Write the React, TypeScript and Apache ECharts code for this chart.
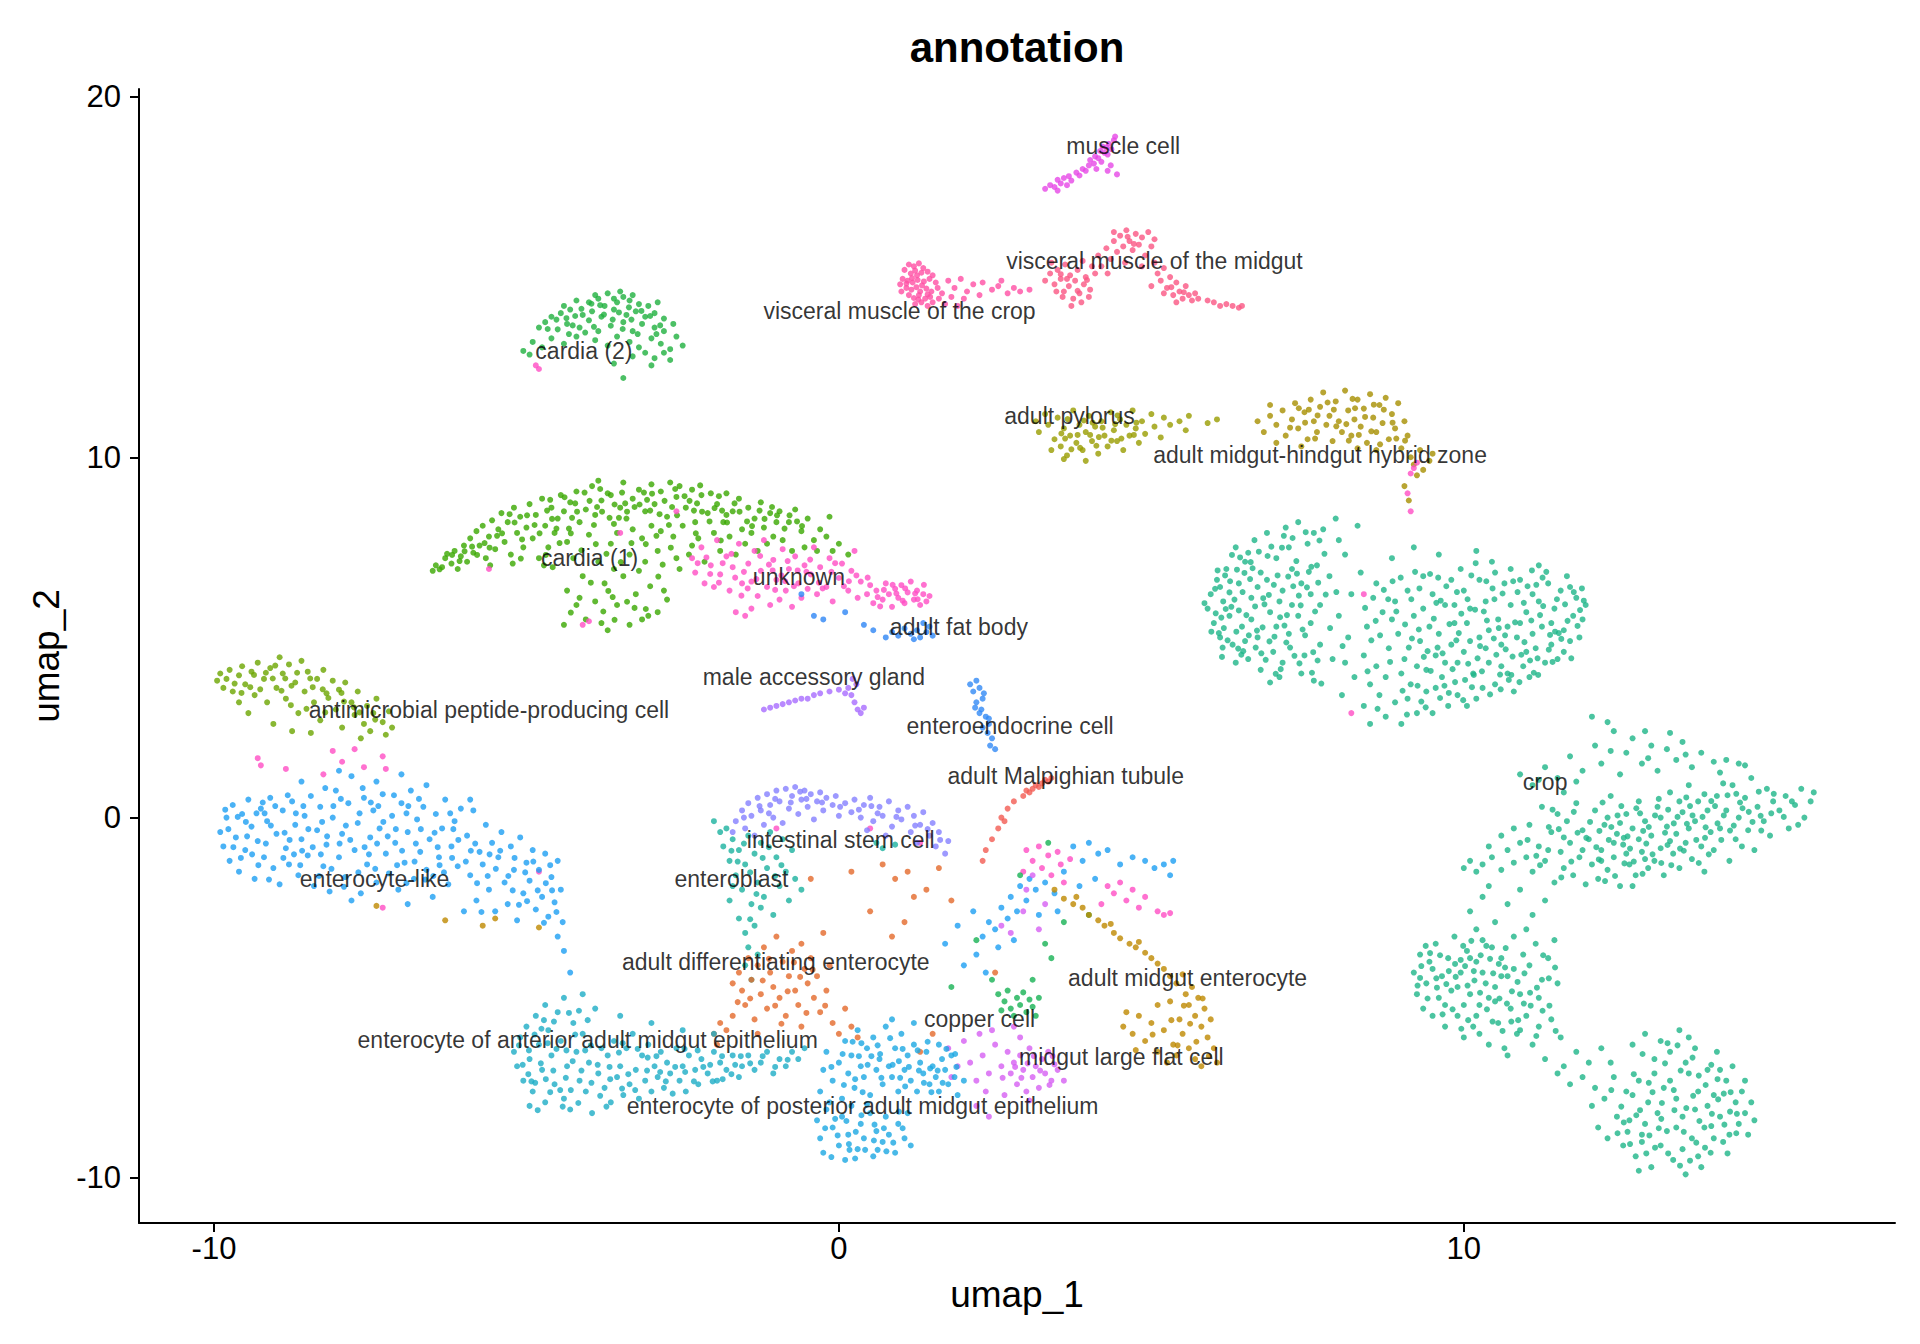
import React, { useEffect, useRef } from 'react';
import * as echarts from 'echarts';

// umap coordinates per cluster, flat [x, y, x, y, ...]
const crop = [
  5.9,5.8, 5.95,6.2, 6.0,5.4, 6.05,6.6, 6.1,5.0, 6.15,6.0, 6.2,6.9, 6.25,5.6, 6.3,4.8, 6.1,6.4, 6.25,6.25, 5.85,5.95,
  6.35,7.5, 6.4,6.5, 6.45,5.3, 6.5,7.1, 6.55,4.4, 6.6,6.1, 6.65,7.7, 6.7,5.0, 6.75,6.8, 6.4,5.75, 6.5,4.9, 6.6,5.5, 6.7,6.4, 6.35,4.3, 6.55,7.35, 6.75,4.1,
  6.85,7.9, 6.9,5.7, 6.95,4.6, 7.0,7.2, 7.05,3.9, 7.1,6.3, 7.15,8.05, 7.2,5.1, 7.25,6.9, 6.85,6.6, 7.0,5.3, 7.1,4.3, 7.2,7.5, 7.25,5.9, 6.9,3.75, 7.05,6.0,
  7.35,8.2, 7.4,6.5, 7.45,4.5, 7.5,7.6, 7.55,5.4, 7.6,3.8, 7.65,7.0, 7.7,5.9, 7.75,8.0, 7.4,4.0, 7.55,6.2, 7.7,4.8, 7.35,5.6, 7.6,7.9,
  7.85,6.7, 7.9,4.4, 7.95,8.3, 8.0,5.6, 8.05,3.4, 8.1,7.3, 8.15,5.0, 8.2,6.2, 8.25,3.9, 8.3,8.1, 8.0,7.7, 8.1,4.3,
  8.35,6.8, 8.4,3.1, 8.45,5.3, 8.5,2.6, 8.55,6.1, 8.6,4.2, 8.65,3.4, 8.7,5.7, 8.75,2.8, 8.8,4.7, 8.4,4.5, 8.6,6.5, 8.5,3.7, 8.75,3.9,
  8.85,7.2, 8.9,3.2, 8.95,5.1, 9.0,2.6, 9.05,4.4, 9.1,6.3, 9.15,3.7, 9.2,5.6, 9.25,2.9, 9.3,4.9, 8.9,6.0, 9.0,4.0, 9.2,7.5, 9.1,3.3, 8.85,5.5, 9.25,4.2,
  9.35,6.7, 9.4,3.5, 9.45,5.3, 9.5,2.9, 9.55,4.5, 9.6,7.3, 9.65,3.9, 9.7,5.9, 9.75,3.1, 9.8,4.8, 9.4,4.1, 9.5,6.2, 9.6,5.1, 9.7,4.3, 9.35,5.8, 9.8,6.6, 9.55,3.6,
  9.85,5.4, 9.9,3.4, 9.95,6.9, 10.0,4.6, 10.05,3.1, 10.1,5.8, 10.15,4.0, 10.2,7.4, 10.25,5.0, 10.3,3.6, 9.9,4.3, 10.0,6.3, 10.1,4.9, 10.2,3.3, 10.25,6.6, 9.85,5.9, 10.05,5.4,
  10.35,6.0, 10.4,4.3, 10.45,7.1, 10.5,3.7, 10.55,5.5, 10.6,4.8, 10.65,6.5, 10.7,4.0, 10.75,5.9, 10.8,3.5, 10.4,5.2, 10.5,6.8, 10.6,4.2, 10.7,5.3, 10.35,4.7, 10.75,6.9,
  10.85,5.0, 10.9,6.6, 10.95,4.2, 11.0,5.7, 11.05,3.9, 11.1,6.2, 11.15,4.7, 11.2,7.0, 11.25,5.3, 11.3,4.3, 10.9,5.4, 11.0,4.6, 11.2,6.0, 11.1,5.1,
  11.35,6.5, 11.4,4.8, 11.45,5.8, 11.5,4.4, 11.55,6.3, 11.6,5.2, 11.65,6.7, 11.7,4.9, 11.75,5.6, 11.8,6.1, 11.85,5.0, 11.9,5.5, 11.95,5.9, 11.4,5.4, 11.6,4.6, 11.7,6.4,
  6.02,6.35, 6.12,5.55, 6.22,4.92, 6.08,5.12, 6.18,6.72, 6.28,5.85, 6.33,6.05, 6.42,7.22, 6.47,4.62, 6.52,5.62, 6.62,6.92, 6.67,4.72, 6.72,7.38, 6.78,5.28,
  6.83,4.38, 6.88,6.18, 6.92,7.52, 6.97,5.02, 7.02,6.72, 7.07,4.12, 7.12,7.82, 7.17,5.62, 7.22,4.72, 7.27,6.42, 7.32,7.12, 7.37,4.28, 7.42,5.22, 7.47,7.92,
  7.52,6.82, 7.57,4.02, 7.62,5.72, 7.67,6.52, 7.72,3.72, 7.77,7.32, 6.03,5.67, 6.14,4.72, 6.37,6.88, 6.44,4.52, 6.58,6.62, 6.81,5.92, 7.13,5.33, 7.33,6.77,
  6.06,6.86, 6.16,5.26, 6.26,6.56, 6.36,5.16, 6.46,6.26, 6.56,5.06, 6.66,5.86, 6.76,4.56, 6.86,7.26, 6.96,6.46, 7.06,5.56, 7.16,4.86, 7.26,7.76, 7.36,6.16,
  7.46,5.06, 7.56,6.96, 7.66,4.36, 6.19,5.79, 6.39,4.69, 6.59,7.09, 6.79,6.09, 6.99,3.99, 7.19,6.69, 7.39,5.89, 7.59,4.59, 7.79,6.19, 6.29,7.29, 6.49,6.79,
  6.69,5.19, 6.89,4.89, 7.09,7.49, 7.29,4.49, 7.49,6.39, 7.69,7.69, 5.96,5.16, 6.13,4.46, 7.86,5.26, 7.96,6.26, 8.06,4.76,
  8.42,5.82, 8.52,4.92, 8.62,3.02, 8.72,6.32, 8.82,4.32, 8.92,5.72, 9.02,3.52, 9.12,4.72, 9.22,6.82, 9.32,3.22, 9.42,4.62, 9.52,5.52, 9.62,3.32, 9.72,6.42,
  9.82,4.12, 9.92,5.12, 10.02,3.82, 10.12,6.72, 10.22,4.42, 10.32,5.72, 10.42,3.42, 10.52,4.52, 10.62,6.22, 10.72,3.82, 10.82,5.42, 10.92,4.52, 11.02,6.42,
  11.12,4.02, 11.22,5.62, 11.32,6.82, 11.42,4.32, 11.52,5.12, 11.62,5.92, 11.72,4.42, 11.82,5.32, 11.92,6.02, 9.17,4.97, 9.47,4.07, 9.77,5.37, 10.07,4.27,
  10.37,5.47, 10.67,4.67, 10.97,4.87, 11.27,5.87, 9.28,5.22, 9.58,4.72, 9.88,4.92, 10.18,5.77, 10.48,4.97, 10.78,4.47, 11.08,5.47, 11.38,5.07, 9.63,6.02,
  10.13,3.62, 10.58,3.97, 11.18,4.42,
  8.46,4.06, 8.66,5.06, 8.86,6.56, 9.06,5.36, 9.26,3.66, 9.46,6.76, 9.66,4.56, 9.86,3.76, 10.06,6.06, 10.26,4.76, 10.46,6.36, 10.66,5.06, 10.86,6.26,
  11.06,4.36, 11.26,6.66, 11.46,5.16, 11.66,5.46, 11.86,5.76, 9.16,6.06, 9.36,4.46, 9.56,5.96, 9.76,3.46, 9.96,5.66, 10.16,3.96, 10.36,6.56, 10.56,5.26,
  10.76,3.96, 10.96,5.96, 11.16,6.46, 11.36,4.66, 11.56,4.96, 11.76,6.26, 9.09,2.86, 9.39,3.06, 9.69,3.66, 9.99,3.26, 10.29,4.06, 10.59,3.56, 10.89,3.76,
  11.19,3.96, 8.59,5.46, 8.79,6.06, 8.99,6.66, 9.29,6.36, 9.59,6.66, 9.89,6.26, 10.19,7.06, 10.49,6.06, 10.79,6.56, 11.09,6.86, 11.49,6.06, 11.89,6.36,
  10.9,1.2, 11.1,0.9, 11.3,1.4, 11.5,1.1, 11.7,1.7, 11.9,1.3, 12.1,2.0, 12.2,1.5, 12.4,2.4, 12.5,1.2, 12.6,1.8, 12.7,2.2, 12.85,1.5, 13.0,2.0, 13.1,1.3,
  13.25,1.9, 13.4,1.6, 13.5,2.1, 13.65,1.4, 13.8,1.8, 14.0,1.55, 14.2,1.6, 14.4,1.5, 14.5,1.45, 12.05,2.8, 12.3,2.65, 12.9,2.4, 13.3,2.35, 11.6,0.7,
  11.2,1.05, 11.8,1.0, 12.35,1.85, 12.95,1.65, 13.55,1.75, 14.1,1.25,
  10.0,-1.4, 10.1,-1.2, 10.2,-1.5, 10.3,-1.3, 10.45,-1.1, 10.6,-1.45, 10.7,-0.9, 10.8,-1.25, 10.9,-0.7, 11.0,-1.1, 10.4,-0.8, 10.8,-0.3, 10.6,-0.5,
  11.05,-0.2, 11.1,-1.5, 11.2,-0.8, 11.25,0.3, 11.3,-1.2, 11.4,-0.4, 11.45,-1.8, 11.5,0.1, 11.55,-0.95, 11.6,-1.4, 11.65,-0.1, 11.7,-0.7, 11.75,-1.6,
  11.8,0.4, 11.85,-1.1, 11.9,-0.35, 11.95,-1.85, 11.35,-0.9, 11.6,-0.55, 11.9,-0.9,
  12.0,-0.6, 12.05,-1.3, 12.1,0.2, 12.15,-1.7, 12.2,-0.9, 12.25,-0.2, 12.3,-1.45, 12.35,0.6, 12.4,-1.1, 12.45,-0.45, 12.5,-1.9, 12.55,-0.75, 12.6,0.1,
  12.65,-1.3, 12.7,-0.3, 12.75,-1.6, 12.8,0.45, 12.85,-0.95, 12.9,-0.1, 12.95,-1.4, 12.2,-1.2, 12.4,-0.7, 12.6,-1.0, 12.8,-0.6, 12.3,0.0, 12.7,-1.9,
  12.5,-0.15, 12.9,-1.15,
  13.0,-0.5, 13.05,-1.2, 13.1,0.3, 13.15,-0.85, 13.2,-1.6, 13.25,-0.25, 13.3,0.7, 13.35,-1.0, 13.4,-0.45, 13.45,-1.4, 13.5,0.15, 13.55,-0.7, 13.6,0.9,
  13.65,-1.15, 13.7,-0.1, 13.75,0.45, 13.8,-0.8, 13.85,-1.5, 13.9,0.2, 13.95,-0.4, 13.3,-0.65, 13.6,-0.3, 13.15,0.0, 13.85,0.65, 13.45,0.45,
  14.0,-0.9, 14.05,0.6, 14.1,-0.3, 14.2,0.2, 14.25,-1.2, 14.3,0.9, 14.35,-0.6, 14.4,0.0, 14.5,0.55, 14.55,-0.35, 14.6,1.1, 14.65,-0.9, 14.7,0.3,
  14.8,-0.1, 14.85,0.8, 14.9,-0.5, 14.95,0.45, 14.15,0.95, 14.45,-0.8, 14.75,0.05,
  15.05,0.2, 15.15,0.6, 15.2,-0.3, 15.3,0.35, 15.4,0.8, 15.45,0.0, 15.55,0.45, 15.6,0.7, 15.35,-0.2,
  11.02,-0.62, 11.22,-1.32, 11.42,0.22, 11.52,-0.32, 11.72,-1.22, 11.82,-0.42, 12.02,-0.12, 12.12,-0.82, 12.22,0.42, 12.32,-0.62, 12.42,-1.62, 12.52,0.32,
  12.62,-0.52, 12.72,-1.22, 12.82,0.12, 12.92,-0.72, 13.02,-1.02, 13.12,0.52, 13.22,-0.42, 13.32,-1.32, 13.42,0.02, 13.52,-0.92, 13.62,0.32, 13.72,-0.62,
  13.82,0.02, 13.92,-1.02, 14.02,0.32, 14.12,-0.62, 14.22,0.62, 14.32,-0.22, 14.42,0.42, 14.62,-0.12, 14.72,0.72, 14.92,0.12, 15.12,0.02, 15.25,0.45,
  12.17,-0.37, 12.57,-1.27, 12.87,-0.37, 13.27,0.22, 13.57,-0.17, 13.87,-0.27,
  11.16,-1.06, 11.36,-0.26, 11.56,-1.66, 11.76,0.16, 11.96,-0.56, 12.16,-1.16, 12.36,-0.26, 12.56,-0.56, 12.76,0.26, 12.96,-0.26, 13.16,-1.26, 13.36,-0.16,
  13.56,0.56, 13.76,-1.26, 13.96,0.46, 14.16,0.06, 14.36,0.66, 14.56,0.16, 14.76,-0.36, 14.96,0.66, 12.26,-1.76, 12.66,-0.86, 13.06,0.06, 13.46,-0.86,
  13.86,-0.56, 14.26,-0.36, 12.46,0.06, 12.86,-1.56, 13.26,-0.76, 13.66,0.06, 14.06,-0.16, 14.46,0.26,
  10.1,-2.6, 10.3,-2.2, 10.5,-2.9, 10.7,-2.4, 10.9,-2.0, 11.1,-2.7, 11.3,-2.3, 10.4,-1.9, 11.0,-3.1, 10.2,-3.1,
  9.2,-4.3, 9.25,-4.9, 9.3,-3.8, 9.35,-5.3, 9.4,-4.6, 9.45,-4.0, 9.5,-5.5, 9.55,-3.5, 9.6,-5.0, 9.65,-4.4, 9.7,-5.8, 9.75,-3.9, 9.8,-4.8, 9.3,-4.45,
  9.5,-4.2, 9.7,-5.2,
  9.85,-3.3, 9.9,-5.5, 9.95,-4.3, 10.0,-6.1, 10.05,-3.7, 10.1,-4.9, 10.15,-5.8, 10.2,-4.0, 10.25,-5.2, 10.3,-3.4, 10.35,-4.6, 10.4,-6.3, 9.9,-4.7,
  10.0,-5.2, 10.1,-3.9, 10.2,-5.5, 10.3,-4.3, 10.4,-5.0, 9.95,-3.95, 10.25,-6.0,
  10.45,-3.6, 10.5,-4.7, 10.55,-5.7, 10.6,-3.9, 10.65,-6.4, 10.7,-4.4, 10.75,-5.3, 10.8,-3.3, 10.85,-6.0, 10.9,-4.9, 10.95,-3.8, 11.0,-5.5, 10.5,-5.1,
  10.7,-6.6, 10.8,-4.2, 10.6,-4.4, 10.9,-5.9,
  11.05,-4.1, 11.1,-6.3, 11.15,-3.5, 11.2,-5.0, 11.25,-4.5, 11.3,-6.7, 11.35,-3.9, 11.4,-5.6, 11.5,-4.6, 11.55,-6.1, 11.45,-3.4, 11.2,-5.8,
  9.32,-4.12, 9.42,-5.02, 9.57,-4.72, 9.62,-3.82, 9.82,-5.32, 9.87,-4.42, 10.02,-4.12, 10.07,-5.62, 10.17,-4.52, 10.27,-3.82, 10.37,-5.32, 10.47,-4.32,
  10.57,-5.02, 10.67,-3.62, 10.77,-4.82, 10.87,-5.62, 10.97,-4.32, 11.07,-5.22, 11.17,-4.72, 11.27,-3.82, 11.37,-5.22, 11.47,-5.92, 10.12,-3.42,
  10.42,-3.92, 9.72,-4.62, 10.62,-5.92,
  9.26,-4.66, 9.46,-3.76, 9.66,-5.46, 9.86,-4.06, 10.06,-4.66, 10.26,-4.86, 10.46,-5.66, 10.66,-4.16, 10.86,-4.56, 11.06,-4.86, 11.26,-5.36, 11.46,-4.16,
  9.56,-4.46, 9.76,-4.26, 9.96,-5.86, 10.16,-4.26, 10.36,-3.56, 10.56,-4.06, 10.76,-5.66, 10.96,-5.16, 11.16,-6.06, 11.36,-4.46, 9.39,-3.56, 9.99,-3.56,
  10.69,-5.16,
  11.6,-6.9, 11.8,-6.5, 11.9,-7.2, 12.0,-6.8, 12.1,-7.5, 11.7,-7.4, 12.2,-6.4, 11.5,-7.1,
  12.05,-8.0, 12.15,-8.6, 12.25,-7.8, 12.3,-8.9, 12.4,-7.2, 12.45,-8.3, 12.55,-9.1, 12.6,-7.6, 12.35,-6.8,
  12.65,-8.4, 12.7,-6.3, 12.75,-9.4, 12.8,-7.3, 12.85,-8.8, 12.9,-6.0, 12.95,-7.9, 13.0,-9.7, 13.05,-6.7, 13.1,-8.2, 13.15,-9.1, 13.2,-7.5, 12.7,-7.7,
  12.9,-8.5, 13.05,-7.1, 12.8,-9.8, 13.15,-6.2, 12.85,-9.0,
  13.25,-8.7, 13.3,-6.5, 13.35,-9.5, 13.4,-7.8, 13.45,-5.9, 13.5,-8.3, 13.55,-9.9, 13.6,-7.1, 13.65,-8.9, 13.7,-6.4, 13.75,-7.6, 13.3,-7.3, 13.5,-9.2,
  13.6,-6.1, 13.7,-8.1, 13.4,-8.6, 13.55,-6.8, 13.75,-9.4,
  13.85,-8.6, 13.9,-7.0, 13.95,-9.3, 14.0,-7.7, 14.05,-6.5, 14.1,-8.3, 14.15,-9.0, 14.2,-7.3, 14.25,-8.8, 14.3,-6.9, 14.35,-7.9, 14.4,-8.5, 13.9,-8.0,
  14.1,-7.0, 13.8,-9.7, 14.0,-8.9,
  14.45,-7.6, 14.5,-8.2, 14.55,-8.8, 14.6,-7.9, 14.65,-8.4, 14.5,-7.3,
  12.52,-8.02, 12.62,-8.72, 12.72,-7.12, 12.82,-8.12, 12.92,-9.32, 13.02,-7.62, 13.12,-8.62, 13.22,-6.82, 13.27,-9.32, 13.37,-8.12, 13.47,-7.02,
  13.52,-8.72, 13.62,-9.52, 13.67,-7.72, 13.77,-8.42, 13.87,-7.42, 13.97,-8.22, 14.07,-7.82, 14.17,-8.52, 14.27,-7.62, 14.37,-8.22, 13.42,-6.32,
  13.17,-7.92, 12.97,-8.82, 13.72,-9.02, 14.22,-9.32,
  12.36,-7.56, 12.56,-8.46, 12.76,-8.26, 12.96,-7.36, 13.16,-8.36, 13.36,-7.56, 13.56,-8.06, 13.76,-7.16, 13.96,-8.56, 14.16,-7.66, 14.36,-8.76,
  12.66,-9.06, 13.06,-9.16, 13.46,-9.66, 13.86,-9.16, 14.26,-8.16, 13.26,-6.26, 13.66,-6.66, 14.06,-7.26, 12.86,-6.56, 13.96,-6.86, 12.46,-8.76,
];

const muscleCell = [
  3.30,17.45, 3.38,17.55, 3.45,17.5, 3.5,17.7, 3.55,17.6, 3.6,17.75, 3.68,17.8, 3.72,17.68, 3.8,17.9, 3.85,17.82, 3.9,18.0,
  3.95,17.95, 4.0,18.1, 4.02,18.25, 4.08,18.15, 4.1,18.35, 4.15,18.3, 4.18,18.5, 4.2,18.2, 4.25,18.45, 4.28,18.6, 4.3,18.4,
  4.32,18.7, 4.36,18.55, 4.4,18.8, 4.42,18.9, 4.35,18.1, 4.3,17.95, 4.45,17.85, 3.5,17.4, 3.65,17.55, 4.12,18.0, 4.22,18.62,
];

const visceralCrop = [
  1.05,15.2, 1.12,15.35, 1.2,15.3, 1.28,15.38, 1.35,15.25, 1.15,15.1, 1.25,15.05, 1.32,15.12, 1.42,15.15, 1.5,15.05, 1.02,14.95,
  1.1,14.9, 1.18,14.85, 1.26,14.92, 1.36,14.88, 1.45,14.95, 1.55,14.85, 1.08,14.7, 1.16,14.65, 1.24,14.72, 1.3,14.6, 1.4,14.68,
  1.48,14.6, 1.58,14.7, 1.12,14.5, 1.2,14.42, 1.28,14.5, 1.38,14.4, 1.46,14.45, 1.22,14.25, 1.32,14.3, 1.42,14.2, 1.5,14.3,
  1.6,14.4, 1.65,14.55, 1.0,14.6, 0.98,14.8,
  1.75,14.9, 1.85,14.7, 1.95,14.95, 2.05,14.6, 2.15,14.8, 2.25,14.5, 2.3,14.85, 2.45,14.65, 2.55,14.75, 2.7,14.55, 2.8,14.7,
  2.9,14.6, 3.05,14.65, 2.0,14.4, 1.8,14.45, 2.6,14.9, 1.7,14.25, 1.9,14.2,
  1.17,14.97, 1.33,14.77, 1.22,15.18, 1.42,14.52, 1.27,14.38, 1.08,14.82,
];

const visceralMidgut = [
  3.3,14.9, 3.38,15.1, 3.45,14.8, 3.5,15.2, 3.55,14.95, 3.6,14.6, 3.62,15.35, 3.68,14.75, 3.7,15.05, 3.75,14.4, 3.78,14.9,
  3.82,15.2, 3.85,14.55, 3.88,14.3, 3.9,15.45, 3.92,14.8, 3.95,15.0, 4.0,14.45, 4.02,14.65, 4.05,15.3, 3.58,14.45, 3.72,14.2,
  3.48,14.6, 3.4,15.4, 4.1,15.1,
  4.15,15.6, 4.2,15.3, 4.28,15.8, 4.35,15.5, 4.4,16.0, 4.45,15.7, 4.5,16.15, 4.55,15.85, 4.6,16.3, 4.65,16.0, 4.7,15.75,
  4.75,16.2, 4.8,15.9, 4.85,16.1, 4.9,15.6, 4.95,16.25, 5.0,15.85, 4.3,15.1, 4.58,15.4, 4.85,15.3, 5.05,16.05, 4.4,16.25,
  5.05,15.4, 5.1,15.1, 5.15,14.9, 5.2,15.25, 5.25,14.7, 5.3,15.0, 5.35,14.5, 5.4,14.85, 5.45,14.6, 5.5,14.4, 5.55,14.75,
  5.6,14.5, 5.65,14.35, 5.7,14.55, 5.75,14.4, 5.2,14.55, 5.4,14.3, 5.0,14.75,
  6.0,14.3, 6.1,14.2, 6.2,14.25, 6.3,14.2, 6.4,14.15, 6.45,14.2, 5.9,14.35,
  3.65,14.95, 3.82,14.62, 3.55,15.08, 3.97,14.92, 4.62,16.12, 4.72,15.92, 5.32,14.72, 5.52,14.58,
];

const cardia2 = [
  -3.9,14.5, -3.7,14.55, -3.5,14.6, -3.3,14.5, -3.6,14.4, -3.45,14.45,
  -4.4,14.2, -4.2,14.35, -4.0,14.3, -3.85,14.4, -3.75,14.2, -3.55,14.3, -3.35,14.35, -3.2,14.25, -3.05,14.2, -2.9,14.3,
  -4.6,13.9, -4.45,14.0, -4.3,14.1, -4.1,13.95, -3.95,14.05, -3.8,13.9, -3.6,14.1, -3.4,13.95, -3.25,14.05, -3.1,13.9, -2.95,14.0, -2.8,13.85,
  -4.8,13.6, -4.7,13.75, -4.5,13.55, -4.35,13.7, -4.15,13.6, -4.0,13.8, -3.85,13.5, -3.65,13.65, -3.45,13.75, -3.3,13.5, -3.15,13.7, -2.95,13.6, -2.8,13.5, -2.65,13.7,
  -4.9,13.2, -4.75,13.05, -4.6,13.3, -4.4,13.15, -4.2,13.35, -3.9,13.25, -3.7,13.1, -3.55,13.35, -3.35,13.2, -3.2,13.05, -3.0,13.3, -2.85,13.15, -2.7,13.0, -2.6,13.35, -2.5,13.1,
  -5.05,12.95, -4.95,12.85, -3.3,12.8, -3.1,12.9, -2.95,12.75, -2.8,12.9, -3.6,12.6, -3.0,12.55, -2.7,12.7, -3.45,12.2,
  -4.52,13.82, -4.22,13.92, -3.92,13.62, -3.62,13.82, -3.32,13.82, -3.02,13.92, -4.12,14.12, -3.82,14.22, -3.52,14.02, -3.22,13.42, -2.92,13.42, -4.32,13.42,
  -4.36,13.86, -4.06,13.46, -3.76,13.96, -3.46,13.56, -3.16,14.06, -2.86,13.66, -4.66,13.56, -3.96,14.26, -3.36,14.16, -4.26,13.66,
];

const adultPylorus = [
  3.15,11.0, 3.2,10.7, 3.3,11.2, 3.35,10.9, 3.45,10.5, 3.5,11.1, 3.55,10.3, 3.6,10.8, 3.65,10.05, 3.7,10.6, 3.75,11.3,
  3.8,10.4, 3.85,10.9, 3.9,10.2, 3.95,10.7, 4.0,11.15, 4.05,10.45, 4.1,10.85, 4.15,10.1, 4.2,11.0, 4.25,10.6, 4.3,10.3,
  4.35,11.25, 4.4,10.75, 4.45,10.45, 4.5,11.05, 4.55,10.2, 4.6,10.9, 4.65,10.6, 4.7,11.3, 4.75,10.8, 4.8,10.4, 4.85,11.0,
  4.9,10.65, 5.0,11.2, 5.05,10.85, 5.15,10.55, 5.2,11.1, 5.3,10.9, 5.45,11.0, 5.55,10.75, 5.6,11.15, 5.9,10.95, 6.05,11.05,
  3.4,10.2, 3.6,9.95, 3.95,9.9,
  3.62,10.52, 3.92,11.02, 4.22,10.82, 4.52,10.52, 4.12,10.32, 3.82,10.62, 4.42,10.92, 4.72,10.62, 3.72,10.22, 4.02,10.62,
  3.56,10.66, 3.86,10.26, 4.16,10.56, 4.46,11.16, 4.76,10.96, 3.66,11.06, 4.06,10.96, 4.36,10.46,
];

const hybridZone = [
  6.7,11.0, 6.8,10.7, 6.9,11.15, 7.0,10.9, 7.1,11.3, 7.15,10.6, 7.25,11.05, 7.3,11.5, 7.35,10.8, 7.45,11.25, 7.5,10.5,
  7.55,11.6, 7.6,11.0, 7.65,10.7, 7.7,11.4, 7.75,11.8, 7.8,10.9, 7.85,11.15, 7.9,10.45, 7.95,11.55, 8.0,11.0, 8.05,10.7,
  8.1,11.85, 8.15,11.3, 8.2,10.6, 8.25,11.05, 8.3,11.6, 8.35,10.85, 8.4,11.35, 8.45,10.4, 8.5,11.75, 8.55,11.1, 8.6,10.7,
  8.65,11.45, 8.7,10.95, 8.75,11.65, 8.8,10.5, 8.85,11.2, 8.9,10.8, 8.95,11.5, 9.0,10.25, 9.05,11.0, 9.1,10.6, 9.15,10.0,
  9.2,9.8, 9.3,10.2, 9.35,9.65, 9.45,9.9, 9.5,10.1, 9.25,9.5, 8.6,10.2, 8.3,10.25, 7.4,10.3, 7.0,10.4, 6.9,11.45, 9.12,8.8, 9.05,9.2,
  7.22,10.82, 7.52,11.32, 7.82,11.52, 8.12,10.92, 8.42,11.12, 8.72,11.32, 8.92,10.52, 7.62,10.52, 8.22,11.62, 8.52,10.72, 7.92,11.32, 8.32,10.62,
  7.36,11.36, 7.66,11.16, 7.96,10.86, 8.26,11.36, 8.56,11.46, 8.86,10.96, 8.16,10.46, 7.46,10.96, 8.66,10.36, 9.06,10.46,
];

const cardia1 = [
  -6.5,6.85, -6.45,7.0, -6.35,6.95, -6.3,7.2, -6.2,7.05, -6.15,7.4, -6.05,7.25, -6.0,7.55, -6.1,6.9,
  -5.95,7.1, -5.9,7.75, -5.85,7.35, -5.8,7.95, -5.75,7.55, -5.7,8.1, -5.65,7.2, -5.6,7.8, -5.55,8.25, -5.5,7.45, -5.58,7.0,
  -5.45,8.0, -5.4,8.45, -5.35,7.65, -5.3,8.2, -5.25,7.3, -5.2,8.6, -5.15,7.9, -5.1,8.35, -5.05,7.5, -5.0,8.05, -5.22,7.05,
  -4.95,8.7, -4.9,7.75, -4.85,8.4, -4.8,7.2, -4.75,8.85, -4.7,8.1, -4.65,7.5, -4.6,8.6, -4.55,7.9, -4.5,8.3, -4.58,6.95, -4.72,7.0,
  -4.45,8.95, -4.4,8.5, -4.35,7.65, -4.3,8.75, -4.25,7.2, -4.2,9.05, -4.15,8.2, -4.1,6.7, -4.05,8.55, -4.0,7.85, -4.35,6.3, -4.2,5.9, -4.05,5.5, -4.15,6.1, -4.4,5.35,
  -3.95,9.2, -3.9,8.4, -3.85,7.1, -3.8,8.8, -3.75,6.5, -3.7,9.0, -3.65,7.6, -3.6,8.15, -3.55,5.9, -3.5,8.6, -3.9,6.0, -3.8,5.4, -3.6,6.9, -3.7,5.2, -3.55,7.9, -3.85,9.35, -3.65,8.95,
  -3.45,9.3, -3.4,8.3, -3.35,7.3, -3.3,8.85, -3.25,6.2, -3.2,9.1, -3.15,7.75, -3.1,8.5, -3.05,5.6, -3.0,9.25, -3.45,6.7, -3.35,5.35, -3.2,6.85, -3.1,7.1, -3.3,8.0, -3.0,8.1, -3.15,5.5,
  -2.95,8.7, -2.9,7.4, -2.85,9.05, -2.8,6.3, -2.75,8.35, -2.7,9.3, -2.65,7.8, -2.6,8.9, -2.55,6.9, -2.5,8.1, -2.9,5.7, -2.75,6.05, -2.6,7.2, -2.85,7.95, -2.55,9.2,
  -2.45,8.6, -2.4,7.3, -2.35,9.1, -2.3,8.2, -2.25,7.75, -2.2,8.95, -2.15,7.1, -2.1,8.45, -2.05,9.0, -2.0,7.9, -2.35,7.55,
  -1.95,8.7, -1.9,7.4, -1.85,8.2, -1.8,9.0, -1.75,7.8, -1.7,8.5, -1.65,7.3, -1.6,8.85, -1.55,8.0, -1.5,7.6, -1.8,8.4,
  -1.45,8.6, -1.4,7.9, -1.35,8.3, -1.3,7.4, -1.25,8.75, -1.2,8.05, -1.15,7.6, -1.1,8.45, -1.05,7.8, -1.0,8.2,
  -0.95,8.5, -0.9,7.7, -0.8,8.2, -0.75,7.4, -0.7,8.55, -0.6,7.95, -0.55,7.5, -0.5,8.3, -0.4,7.7, -0.3,8.0, -0.35,7.4,
  -0.2,7.8, -0.1,7.4, 0.0,7.6, 0.15,7.3, -0.15,8.35,
  -6.27,7.32, -6.07,7.12, -5.87,7.52, -5.67,7.62, -5.47,7.82, -5.27,8.42, -5.07,7.72, -4.87,8.12, -4.67,8.52, -4.47,7.62, -4.27,8.32, -4.07,9.02,
  -3.87,8.62, -3.67,8.32, -3.47,9.02, -3.27,8.62, -3.07,8.82, -2.87,8.42, -2.67,8.62, -2.47,8.92, -2.27,8.72, -2.07,8.22, -1.87,8.52, -1.67,8.72,
  -1.47,8.22, -1.27,8.52, -1.07,8.62, -0.87,8.02, -0.67,8.22, -4.62,8.82, -4.22,8.72, -3.82,9.12, -3.42,8.72, -3.02,8.52, -2.62,9.12, -2.22,9.22,
  -4.32,8.02, -3.92,8.12, -3.52,8.32, -3.12,9.02, -2.72,8.12, -2.32,8.52, -1.92,8.92, -3.72,7.32, -3.32,7.62, -2.92,7.82, -4.12,7.42, -4.52,8.02,
  -3.97,6.52, -3.62,6.12, -3.27,5.82, -3.02,6.42, -3.77,5.72, -2.82,7.02,
  -6.39,6.89, -6.19,7.29, -5.99,7.39, -5.79,7.29, -5.59,7.49, -5.39,7.89, -5.19,8.19, -4.99,8.39, -4.79,7.89, -4.59,8.29, -4.39,8.89, -4.19,8.49,
  -3.99,8.79, -3.79,8.49, -3.59,8.69, -3.39,8.49, -3.19,8.69, -2.99,8.99, -2.79,8.79, -2.59,8.39, -2.39,8.79, -2.19,8.49, -1.99,8.59, -1.79,8.19,
  -1.59,8.49, -1.39,8.09, -1.19,8.29, -0.99,8.39, -0.79,8.39, -0.59,8.09, -5.09,7.19, -4.69,7.29, -4.29,7.89, -3.89,7.59, -3.49,7.09, -3.09,7.59,
  -2.69,7.49, -2.29,7.89, -1.89,7.69, -3.69,6.29, -3.39,5.99, -3.09,5.79, -3.59,5.49, -2.89,6.69, -4.29,5.69,
];

const unknown = [
  -2.35,7.2, -2.3,6.8, -2.2,7.5, -2.15,6.5, -2.05,7.0, -2.0,6.4, -1.95,7.7, -1.9,6.75, -1.8,7.25, -1.75,6.3, -1.7,6.95,
  -1.6,7.6, -1.55,6.5, -1.65,5.7, -1.5,5.6, -1.4,5.8,
  -1.45,7.05, -1.4,6.55, -1.35,7.4, -1.3,6.15, -1.25,6.85, -1.2,7.7, -1.15,6.4, -1.1,5.9, -1.05,7.15, -1.0,6.6, -0.95,6.05,
  -0.9,7.45, -0.85,6.3, -0.8,6.9, -0.75,5.85, -0.7,7.25, -0.65,6.5, -0.6,6.1, -0.55,7.0, -0.5,6.35,
  -0.45,6.75, -0.4,7.5, -0.35,6.2, -0.3,6.95, -0.2,6.4, -0.15,7.2, -0.1,6.0, 0.0,6.65, 0.05,7.05, 0.15,6.3, 0.2,6.85,
  0.3,6.1, 0.35,6.55, 0.25,7.4,
  0.45,6.2, 0.5,6.45, 0.55,5.95, 0.6,6.3, 0.7,6.05, 0.75,6.5, 0.8,6.2, 0.85,5.85, 0.9,6.35, 0.95,6.1, 1.0,6.45, 1.05,5.95,
  1.1,6.25, 1.15,6.55, 1.2,6.05, 1.25,6.3, 1.3,5.9, 1.35,6.2, 1.4,6.0, 1.45,6.15,
  -2.12,7.22, -1.92,6.52, -1.72,7.32, -1.52,6.82, -1.32,6.62, -1.12,7.02, -0.92,6.72, -0.72,6.42, -0.52,6.82, -0.32,6.52,
  -0.12,6.82, 0.08,6.42, 0.28,6.72, 0.62,6.12, 0.92,6.22, 1.22,6.22, 1.02,6.02, 0.72,6.32, -1.02,6.32, -0.82,7.12,
  -2.26,7.06, -2.06,6.76, -1.86,7.06, -1.66,6.66, -1.46,6.36, -1.26,7.26, -1.06,6.86, -0.86,6.56, -0.66,6.86, -0.46,7.16,
  -0.26,6.36, -0.06,7.06, 0.16,6.56, 0.46,6.66, 0.66,5.86, 0.86,6.46, 1.06,6.36, 1.26,6.06, 1.36,6.46, -1.56,6.16,
  -5.6,6.9, -4.1,5.35, -4.0,5.45, -3.5,7.9, -2.6,8.5,
  -9.3,1.65, -9.25,1.45, -8.85,1.35, -8.1,1.85, -7.95,1.55, -7.75,1.9, -7.6,1.4, -7.3,1.7, -7.25,1.35, -8.25,1.2,
  3.0,-0.9, 3.1,-1.2, 3.2,-0.8, 3.25,-1.4, 3.35,-1.05, 3.4,-1.6, 3.5,-0.95, 3.55,-1.3, 3.6,-1.8, 3.7,-1.15, 2.95,-1.5,
  4.3,-1.9, 4.4,-2.1, 4.5,-1.8, 4.6,-2.3, 4.7,-2.0, 4.8,-2.5, 4.9,-2.2, 5.1,-2.6, 5.2,-2.7, 5.3,-2.65, 4.2,-2.4,
  9.2,9.7, 9.25,9.85, 9.15,9.55, 9.1,9.0, 9.15,8.5, -4.85,12.55, -4.8,12.45,
  -1.0,-0.3, 0.5,-0.3, 1.3,-0.7, 8.2,2.9, 8.4,6.2, -7.3,-2.5, -4.8,-1.5,
];

const adultFatBody = [
  0.75,5.0, 0.85,5.15, 0.95,5.05, 1.05,5.25, 1.15,5.1, 1.25,5.2, 1.3,5.0, 1.4,5.15, 1.45,5.3, 1.5,5.05, 1.35,5.4,
  1.2,4.95, -0.4,5.6, -0.25,5.5, 0.1,5.7, 0.4,5.35, 0.55,5.2, -0.6,6.2,
];

const maleAccessory = [
  -1.2,3.0, -1.1,3.05, -1.0,3.1, -0.9,3.15, -0.8,3.2, -0.7,3.25, -0.6,3.3, -0.5,3.3, -0.4,3.4, -0.3,3.45, -0.15,3.5,
  0.0,3.55, 0.15,3.6, 0.2,3.4, 0.25,3.2, 0.3,3.0, 0.35,2.9, 0.28,3.7, 0.4,3.05, 0.22,3.85, 0.1,3.45,
];

const enteroendocrine = [
  2.1,3.7, 2.2,3.8, 2.15,3.5, 2.25,3.6, 2.3,3.3, 2.2,3.2, 2.28,3.0, 2.35,2.8, 2.25,2.9, 2.4,2.6, 2.3,2.5, 2.38,2.35,
  2.45,2.2, 2.42,2.0, 2.5,1.9, 2.32,3.45, 2.18,3.05, 2.4,2.75,
];

const antimicrobial = [
  -9.95,3.8, -9.9,4.0, -9.85,3.6, -9.8,3.85, -9.75,4.1, -9.7,3.5, -9.6,3.95, -9.55,4.2, -9.5,3.7, -9.4,4.05, -9.35,3.4,
  -9.3,4.3, -9.2,3.85, -9.15,3.2, -9.1,4.15, -9.0,3.6, -8.95,4.45, -8.9,4.0, -8.85,3.3, -8.8,4.25, -8.7,3.75, -8.65,2.9,
  -8.6,4.35, -8.55,3.5, -8.5,4.05, -8.4,3.2, -8.35,3.85, -8.3,2.7, -8.25,4.1, -8.2,3.45, -8.1,3.8, -8.05,3.0, -8.0,3.55,
  -7.95,2.5, -7.9,3.75, -7.8,3.2, -7.75,2.85, -7.7,3.5, -7.6,2.6, -7.55,3.1, -7.5,2.4, -7.45,2.9, -7.4,3.3, -7.3,2.65,
  -7.25,2.3, -7.2,2.95, -7.15,2.5, -9.45,2.9, -9.05,2.6, -8.75,2.4, -9.6,3.2, -8.45,2.35, -7.65,2.2,
  -9.67,3.72, -9.42,3.62, -9.17,4.02, -8.92,3.52, -8.67,4.02, -8.42,3.62, -8.17,3.32, -7.92,3.22, -7.67,2.92, -7.42,2.72,
  -9.02,4.22, -8.77,3.12, -8.52,3.02, -8.22,2.92,
  -9.56,3.46, -9.26,3.56, -9.06,3.86, -8.76,3.66, -8.46,3.86, -8.26,3.56, -7.96,3.46, -7.76,3.06, -9.36,3.96, -8.86,3.86,
];

const enterocyteLike = [
  -9.9,-0.4, -9.85,-0.8, -9.8,0.0, -9.75,-1.2, -9.7,0.35, -9.65,-0.55, -9.6,-1.5, -9.55,0.1, -9.5,-0.9, -9.45,0.5,
  -9.4,-0.25, -9.35,-1.7, -9.3,-0.65, -9.25,0.25, -9.2,-1.1, -9.15,-0.1, -9.1,0.55, -9.05,-1.4, -9.0,-0.45, -8.95,-1.85,
  -8.9,0.2, -8.85,-0.85, -8.8,-1.3, -8.75,0.45, -8.7,-0.2, -8.65,-1.6, -8.6,-0.6, -8.55,0.05, -8.5,-1.05,
  -8.45,0.6, -8.4,-1.9, -8.35,-0.35, -8.3,0.3, -8.25,-1.35, -8.2,-0.75, -8.15,-2.05, -8.1,0.0, -8.05,0.75, -8.0,-1.1,
  -7.95,-0.45, -7.9,-1.65, -7.85,0.4, -7.8,1.15, -7.75,-0.9, -7.7,-0.15, -7.65,-2.1, -7.6,0.55, -7.55,-1.3, -7.5,-0.55,
  -7.45,0.2, -7.4,-1.8, -7.35,-0.3, -7.3,0.65, -7.25,-1.0, -7.2,-1.55, -7.15,0.05, -7.1,-0.7, -7.05,-2.0, -7.0,0.4,
  -6.95,-1.25, -6.9,-0.4, -6.85,0.75, -6.8,-1.7, -6.75,-0.05, -6.7,-0.95, -6.65,0.3, -6.6,-1.45, -6.55,-0.6, -6.5,-2.2,
  -6.45,0.1, -6.4,-1.1, -6.35,-0.3, -6.3,0.5, -6.25,-1.85, -6.2,-0.8, -6.15,-0.1, -6.1,-1.35, -6.05,0.25,
  -8.6,1.0, -8.0,1.3, -7.4,1.0, -7.0,1.2, -6.6,0.9, -7.8,-2.3, -6.9,-2.4,
  -5.95,-0.5, -5.9,-1.6, -5.85,0.2, -5.8,-2.3, -5.75,-0.95, -5.7,-1.3, -5.65,-0.2, -5.6,-2.0, -5.55,-0.7, -5.5,-2.6,
  -5.45,-1.1, -5.4,-0.4, -5.35,-1.8, -5.3,-2.4, -5.25,-0.8, -5.2,-1.45, -5.15,-2.85, -5.1,-0.55, -5.05,-2.1, -5.0,-1.25,
  -4.95,-1.75, -4.9,-0.9, -4.85,-2.55, -4.8,-1.45, -4.75,-2.2, -4.7,-1.0, -4.65,-2.75, -4.6,-1.65, -4.55,-2.35, -4.5,-1.2,
  -4.45,-2.0, -4.42,-2.9, -4.5,-3.3, -4.4,-3.7, -4.3,-4.3, -5.9,0.5, -6.0,-2.6,
  -9.77,-0.32, -9.62,0.02, -9.47,-0.52, -9.32,0.12, -9.17,-0.72, -9.02,0.32, -8.87,-0.42, -8.72,-1.02, -8.57,0.32, -8.42,-0.82,
  -8.27,-0.12, -8.12,-1.42, -7.97,0.52, -7.82,-0.62, -7.67,0.12, -7.52,-1.02, -7.37,0.32, -7.22,-0.52, -7.07,-1.32, -6.92,0.12,
  -6.77,-0.72, -6.62,-1.72, -6.47,-0.42, -6.32,-1.52, -6.17,-0.32, -5.97,-1.22, -5.82,-0.72, -5.62,-1.62, -5.42,-0.92, -5.22,-2.02,
  -5.02,-1.52, -4.82,-2.02, -4.62,-1.32, -4.52,-2.62, -9.57,-1.12, -9.12,-1.72, -8.62,-1.32, -8.32,-1.62, -7.92,-1.92, -7.42,-1.42,
  -6.92,-1.82, -6.42,-0.82, -5.72,-2.62, -5.12,-2.42, -4.72,-2.92, -9.82,0.22, -9.22,0.42, -8.82,0.62, -8.22,0.82, -7.62,0.82,
  -7.12,0.62, -6.72,0.52, -6.22,0.12,
  -9.69,-0.82, -9.39,-1.02, -9.09,-0.22, -8.79,-0.62, -8.49,-0.32, -8.19,-0.52, -7.89,-0.22, -7.59,-0.82, -7.29,-0.12, -6.99,-0.92,
  -6.69,-0.32, -6.39,-1.32, -6.09,-0.62, -5.79,-1.82, -5.49,-1.42, -5.19,-1.12, -4.89,-1.22, -4.59,-2.02, -9.49,-0.12, -9.19,0.12,
  -8.89,-1.12, -8.59,-0.92, -8.29,-1.02, -7.99,-0.72, -7.69,-1.52, -7.39,-0.72, -7.09,-0.32, -6.79,-1.22, -6.49,-1.62, -6.19,-1.12,
  -5.89,-0.92, -5.59,-1.02, -5.29,-1.62, -4.99,-2.32, -4.69,-1.82, -9.29,-1.32, -8.69,0.12, -8.09,0.32, -7.49,0.42, -6.89,0.32,
  2.3,-3.3, 2.4,-2.9, 2.5,-3.1, 2.6,-2.5, 2.7,-2.8, 2.75,-2.2, 2.85,-2.6, 2.9,-1.9, 3.0,-2.3, 3.05,-1.7, 3.15,-2.0,
  3.3,-1.8, 3.45,-2.1, 3.6,-1.5, 3.75,-0.8, 3.9,-1.2, 4.0,-0.7, 4.15,-1.0, 4.3,-0.9, 4.5,-1.3, 4.7,-1.1, 4.9,-1.2,
  5.05,-1.4, 5.2,-1.3, 5.3,-1.6, 5.35,-1.2, 2.2,-3.8, 2.0,-4.1, 2.35,-4.3, 2.55,-3.6, 1.7,-3.5, 1.9,-3.0, 2.15,-2.6,
  3.5,-2.6, 3.2,-2.7, 2.8,-3.4, 4.1,-1.7, 3.85,-1.9,
];

const malpighian = [
  2.3,-1.2, 2.35,-0.9, 2.45,-0.6, 2.55,-0.3, 2.6,0.0, 2.7,0.25, 2.8,0.45, 2.95,0.6, 3.05,0.7, 3.1,0.8, 3.15,0.9,
  3.2,0.85, 3.25,0.95, 3.3,1.05, 3.35,1.0, 3.4,1.1, 3.0,0.75, 2.65,-0.1,
];

const stemCell = [
  -1.7,-0.4, -1.65,-0.1, -1.55,0.2, -1.5,-0.3, -1.45,0.4, -1.4,0.05, -1.35,-0.5, -1.3,0.55, -1.25,0.2, -1.2,-0.2,
  -1.15,0.65, -1.1,0.35, -1.05,0.0, -1.0,0.75, -0.95,0.45, -0.9,-0.15, -0.85,0.8, -0.8,0.25, -0.75,0.6, -0.7,0.85,
  -0.65,0.1, -0.6,0.5, -0.55,0.75, -0.5,0.3, -0.45,0.65, -0.4,-0.05, -0.35,0.45, -0.3,0.7, -0.25,0.2, -0.2,0.55,
  -0.1,0.35, -0.05,0.6,
  0.0,0.05, 0.1,0.4, 0.2,0.15, 0.25,0.5, 0.35,0.0, 0.4,0.35, 0.5,0.55, 0.55,-0.1, 0.65,0.3, 0.7,0.05, 0.8,0.45,
  0.85,-0.25, 0.95,0.2, 1.0,-0.05, 1.1,0.3, 1.15,-0.4, 1.2,0.05, 1.3,-0.2, 1.35,0.15, 1.45,-0.5, 1.5,-0.15, 1.55,-0.8,
  1.6,-0.4, 1.7,-1.0, 1.75,-0.65, 0.45,-0.35, 0.75,-0.5, 1.25,-0.7,
  -1.52,0.0, -1.27,0.32, -1.02,0.52, -0.77,0.42, -0.52,0.52, -0.27,0.42, 0.02,0.3, 0.32,0.22, 0.62,0.12, 0.92,0.02,
  1.22,-0.22, 1.42,-0.32, 1.62,-0.62, -1.12,0.12, -0.62,0.72, 0.52,0.32,
];

const enteroblast = [
  -1.9,-0.4, -1.85,-0.8, -1.8,-0.3, -1.75,-1.2, -1.7,-0.6, -1.65,-1.6, -1.6,-0.9, -1.55,-2.0, -1.5,-1.3, -1.45,-0.5,
  -1.4,-2.4, -1.35,-1.0, -1.3,-1.8, -1.25,-0.7, -1.2,-2.2, -1.15,-1.4, -1.1,-0.4, -1.05,-2.7, -1.0,-1.1, -0.95,-1.9,
  -0.9,-0.6, -0.85,-1.5, -0.8,-2.3, -0.75,-0.9, -1.6,-2.8, -1.5,-3.2, -1.35,-3.0, -1.45,-3.6, -1.3,-3.8, -1.5,-4.1,
  -1.4,-4.5, -0.7,-1.7, -0.6,-2.0, 0.6,-0.7, 0.7,-0.85, 0.9,-0.75, -1.7,-1.9, -1.25,-2.5, -1.75,-2.3, -2.0,-0.1,
  -1.62,-1.22, -1.42,-1.52, -1.22,-1.12, -1.02,-1.62, -1.52,-0.72, -1.32,-2.12, -1.12,-0.82, -0.92,-1.32, -1.72,-0.92, -1.42,-2.82,
];

const diffEnterocyte = [
  -1.9,-5.7, -1.8,-5.9, -1.7,-5.5, -1.6,-4.3, -1.55,-4.8, -1.5,-5.2, -1.45,-3.9, -1.4,-4.5, -1.35,-5.6, -1.3,-4.1,
  -1.25,-4.9, -1.2,-3.6, -1.15,-5.3, -1.1,-4.3, -1.05,-4.7, -1.0,-3.3, -0.95,-5.0, -0.9,-4.0, -0.85,-5.5, -0.8,-4.4,
  -0.75,-3.7, -0.7,-4.8, -0.65,-5.2, -0.6,-3.5, -0.55,-4.2, -0.5,-4.6, -0.45,-3.9, -0.4,-5.0, -0.35,-4.4, -0.3,-5.4,
  -0.25,-3.2, -0.2,-4.8, -0.1,-5.7, 0.0,-6.0, 0.1,-5.3, 0.2,-5.8, 0.3,-6.1, -1.7,-4.6, -0.15,-4.1, -0.6,-5.8,
  -1.3,-6.0, -2.0,-6.0, -1.95,-6.3, 0.7,-1.3, 0.9,-1.7, 1.1,-1.5, 1.2,-2.2, 1.4,-2.0, 1.6,-1.4, 1.8,-2.3, 0.5,-2.6,
  0.2,-1.5, 0.85,-3.3, 1.05,-2.9, -0.45,-1.7, 1.5,-6.0, 1.3,-6.5, 2.5,-4.3,
  -1.42,-5.02, -1.22,-4.52, -1.02,-5.22, -0.82,-4.82, -0.62,-4.42, -0.42,-4.22, -0.22,-5.22, -1.12,-3.92, -0.72,-4.02,
  -0.92,-5.72, -1.62,-5.12, -0.52,-5.42,
];

const copperCell = [
  2.55,-4.9, 2.65,-5.1, 2.7,-4.8, 2.75,-5.3, 2.85,-5.0, 2.9,-5.2, 2.95,-4.85, 3.0,-5.4, 3.05,-5.05, 3.1,-5.25, 3.2,-5.0,
  2.8,-5.5, 3.15,-5.5, 2.6,-5.35, 2.45,-4.5, 3.3,-3.5, 3.4,-3.9, 3.1,-4.5, 2.2,-3.4, 3.6,-2.9, 2.9,-1.6, 3.35,-0.7,
  4.0,-2.7, 1.8,-4.7,
];

const midgutEnterocyte = [
  3.45,-2.0, 3.6,-2.25, 3.75,-2.4, 3.9,-2.5, 4.0,-2.7, 4.15,-2.85, 4.25,-3.0, 4.4,-3.2, 4.5,-3.35, 4.65,-3.5, 4.75,-3.6,
  4.9,-3.75, 5.0,-3.9, 5.1,-4.05, 5.2,-4.2, 3.8,-2.2, 4.35,-2.95, 4.8,-3.45,
  5.3,-4.4, 5.4,-4.6, 5.5,-4.35, 5.55,-4.9, 5.6,-5.2, 5.65,-4.7, 5.7,-5.5, 5.75,-5.0, 5.8,-5.8, 5.85,-5.3, 5.9,-6.1,
  5.95,-5.6, 6.0,-6.4, 5.45,-5.6, 5.5,-6.0, 5.35,-6.3, 5.2,-5.9, 5.1,-6.5, 5.0,-5.7, 4.9,-6.2, 4.8,-5.5, 4.7,-6.0,
  4.6,-5.4, 4.55,-5.8, 5.25,-6.8, 5.4,-6.6, 5.6,-6.4, 5.7,-6.7, 5.8,-6.9, 5.1,-5.2, 5.3,-5.1, 4.75,-6.45, 6.05,-6.8,
  5.52,-5.22, 5.62,-5.72, 5.72,-6.22, 5.82,-5.02, 5.42,-6.32, 5.92,-6.62, 5.32,-5.62, 5.02,-6.02,
  -7.4,-2.45, -6.3,-2.85, -5.7,-3.0, -5.5,-2.8, -4.8,-3.05,
];

const largeFlatCell = [
  2.7,-6.5, 2.75,-7.1, 2.8,-6.8, 2.85,-7.4, 2.9,-6.6, 2.95,-7.0, 3.0,-7.6, 3.05,-6.4, 3.1,-7.2, 3.15,-6.9, 3.2,-7.5,
  3.25,-6.7, 3.3,-7.1, 3.35,-6.5, 3.4,-7.3, 3.45,-6.85, 3.5,-7.0, 2.6,-6.9, 2.5,-6.3, 2.4,-7.1, 2.3,-6.6, 2.2,-7.3,
  2.1,-6.8, 2.0,-6.2, 1.9,-6.9, 1.8,-7.2, 1.75,-6.4, 2.45,-5.9, 2.25,-6.0, 2.65,-7.7, 3.05,-7.85, 2.35,-7.6, 3.6,-7.3,
  2.9,-6.1, 2.8,-5.8, 2.95,-2.6, 3.0,-2.0, 3.1,-1.6, 3.2,-3.1, 2.75,-3.2, 3.3,-2.4, 2.6,-3.0, 2.4,-8.3, 2.2,-8.0,
  2.92,-7.22, 3.12,-6.62, 3.22,-7.02, 3.37,-7.42, 2.82,-6.92, 3.02,-6.82, 2.62,-7.22, 3.42,-6.62,
];

const anteriorEpi = [
  -5.2,-6.5, -5.15,-6.9, -5.1,-6.1, -5.05,-7.3, -5.0,-5.8, -4.95,-6.7, -4.9,-7.6, -4.85,-5.5, -4.8,-6.3, -4.75,-7.0,
  -4.7,-7.9, -4.65,-5.9, -4.6,-6.6, -4.55,-7.4, -4.5,-5.4, -4.45,-6.2, -4.4,-7.8, -4.35,-6.9, -4.3,-8.1, -4.25,-5.7,
  -4.2,-6.5, -4.15,-7.3, -4.1,-6.0, -4.05,-7.6, -4.0,-6.8, -3.95,-8.2, -3.9,-5.3, -3.85,-7.1, -3.8,-6.4, -4.7,-5.2,
  -4.4,-5.0, -4.1,-4.9, -4.95,-8.0,
  -3.75,-7.5, -3.7,-6.6, -3.65,-7.9, -3.6,-6.2, -3.55,-7.2, -3.5,-6.9, -3.45,-7.7, -3.4,-6.4, -3.35,-7.4, -3.3,-6.0,
  -3.25,-7.0, -3.2,-7.8, -3.15,-6.6, -3.1,-7.3, -3.05,-6.3, -3.0,-7.6, -2.95,-6.9, -2.9,-7.2, -2.85,-6.5, -2.8,-7.5,
  -2.75,-6.8, -2.7,-7.1, -2.6,-6.4, -2.55,-7.3, -2.5,-6.9, -2.45,-7.6, -2.4,-6.6, -2.3,-7.0, -2.25,-7.4, -2.2,-6.7,
  -2.1,-7.1, -2.0,-6.5, -1.95,-7.3, -1.9,-6.8, -1.8,-7.0, -1.7,-6.6, -1.6,-7.2, -1.55,-6.9,
  -1.45,-6.6, -1.35,-7.0, -1.25,-6.8, -1.15,-6.5, -1.05,-7.1, -0.95,-6.7, -0.85,-6.9, -0.75,-6.5, -0.65,-6.7, -0.55,-6.4,
  -3.0,-5.7, -2.5,-5.9, -2.0,-6.0, -3.5,-5.5,
  -5.12,-6.32, -4.97,-7.12, -4.87,-6.02, -4.77,-6.82, -4.62,-7.62, -4.52,-6.42, -4.37,-7.22, -4.22,-6.02, -4.12,-7.02, -3.97,-6.32,
  -3.82,-7.72, -3.67,-6.92, -3.52,-6.52, -3.37,-7.12, -3.22,-6.42, -3.07,-7.02, -2.92,-6.62, -2.77,-7.32, -2.62,-6.92, -2.47,-6.42,
  -2.32,-7.32, -2.17,-6.92, -2.02,-7.32, -1.87,-6.62, -1.72,-7.12, -1.57,-6.62, -1.42,-6.82, -1.22,-6.62, -1.02,-6.92, -0.82,-6.72,
  -4.72,-5.62, -4.32,-5.42, -4.02,-5.62, -4.82,-8.12, -4.42,-8.02, -3.72,-8.02, -4.92,-7.32, -4.57,-7.02, -4.17,-7.92, -3.47,-7.52,
  -5.06,-6.86, -4.86,-7.36, -4.66,-6.26, -4.46,-7.56, -4.26,-6.76, -4.06,-6.46, -3.86,-6.86, -3.66,-7.26, -3.46,-6.26, -3.26,-7.56,
  -3.06,-6.66, -2.86,-7.06, -2.66,-7.66, -2.46,-7.06, -2.26,-6.46, -2.06,-6.86, -1.86,-7.26, -1.66,-6.86, -4.96,-6.46, -4.76,-5.86,
  -4.56,-5.66, -4.36,-6.46, -4.16,-5.36, -3.96,-7.36, -4.29,-7.56, -4.69,-7.26,
];

const posteriorEpi = [
  -0.3,-7.6, -0.25,-7.0, -0.2,-6.5, -0.1,-7.3, 0.0,-6.8, 0.05,-7.8, 0.1,-6.2, 0.15,-7.1, 0.2,-6.6, 0.25,-7.5, 0.3,-5.9,
  0.35,-6.9, 0.4,-7.2, 0.45,-6.4, 0.5,-7.7, 0.55,-6.1, 0.6,-7.0, 0.65,-6.7, 0.7,-7.4, 0.75,-5.8, 0.8,-6.9, 0.85,-7.2,
  0.9,-6.4, 0.95,-7.6, 1.0,-6.0, 1.05,-7.0, 1.1,-6.6, 1.15,-7.3, 1.2,-6.3, 1.25,-7.6, 1.3,-6.8, 1.35,-7.1, 1.4,-6.5,
  1.45,-7.4, 1.5,-6.9, 1.55,-7.2, 1.6,-7.6, 1.65,-6.7, 1.7,-7.0, 1.75,-7.4, 1.8,-6.6, 1.85,-7.2, 1.9,-7.7, 2.0,-7.3,
  1.6,-6.3, 1.2,-5.7, 0.85,-5.6,
  -0.35,-8.4, -0.3,-8.9, -0.25,-9.3, -0.2,-8.1, -0.1,-8.6, 0.0,-9.1, 0.05,-8.3, 0.1,-9.5, 0.15,-8.8, 0.2,-8.0, 0.3,-9.2,
  0.35,-8.5, 0.4,-8.9, 0.5,-8.2, 0.55,-9.4, 0.6,-8.7, 0.7,-9.0, 0.75,-8.3, 0.8,-8.8, 0.9,-9.3, 0.95,-8.5, 1.05,-8.9,
  1.1,-8.2, 1.15,-9.1, -0.15,-7.9, 0.45,-7.95,
  -0.12,-6.92, 0.08,-7.42, 0.22,-6.22, 0.38,-7.62, 0.52,-6.62, 0.68,-7.22, 0.82,-6.12, 0.98,-7.22, 1.12,-6.92, 1.28,-7.02,
  1.42,-6.22, 1.58,-7.02, 1.72,-6.42, 1.88,-6.92, 1.02,-6.42, 0.62,-6.32, 0.32,-6.62, 1.48,-7.62, -0.22,-8.62, -0.02,-8.82,
  0.12,-8.42, 0.27,-8.72, 0.42,-9.22, 0.57,-8.52, 0.72,-8.62, 0.87,-9.02, 1.02,-8.62, 0.17,-9.22, 0.62,-9.22, -0.12,-9.42,
  0.06,-6.56, 0.26,-7.26, 0.46,-6.86, 0.66,-6.56, 0.86,-6.86, 1.06,-7.46, 1.26,-6.46, 1.46,-6.96, 1.66,-7.36, 1.86,-6.56,
  0.36,-6.26, 0.96,-6.76, 1.36,-7.36, -0.06,-8.36, 0.16,-9.06, 0.36,-8.26, 0.56,-8.96, 0.76,-9.26, 0.96,-8.16, 0.26,-9.46,
];

const clusterNames = [
  'crop', 'muscle cell', 'visceral muscle of the crop', 'visceral muscle of the midgut', 'cardia (2)',
  'adult pylorus', 'adult midgut-hindgut hybrid zone', 'cardia (1)', 'unknown', 'adult fat body',
  'male accessory gland', 'enteroendocrine cell', 'antimicrobial peptide-producing cell', 'enterocyte-like',
  'adult Malpighian tubule', 'intestinal stem cell', 'enteroblast', 'adult differentiating enterocyte',
  'copper cell', 'adult midgut enterocyte', 'midgut large flat cell',
  'enterocyte of anterior adult midgut epithelium', 'enterocyte of posterior adult midgut epithelium',
];
const clusterPoints = [
  crop, muscleCell, visceralCrop, visceralMidgut, cardia2, adultPylorus, hybridZone, cardia1, unknown,
  adultFatBody, maleAccessory, enteroendocrine, antimicrobial, enterocyteLike, malpighian, stemCell,
  enteroblast, diffEnterocyte, copperCell, midgutEnterocyte, largeFlatCell, anteriorEpi, posteriorEpi,
];
const clusterColors = [
  '#1EB588', '#E647E6', '#FF4FA4', '#FA5683', '#1FB03F', '#999C00', '#A68F00', '#3AA800', '#FF4DC4',
  '#2E86F5', '#A86CFF', '#3289F5', '#6BA500', '#1D9FF2', '#F25B53', '#857FFF', '#1CB19F', '#E4692A',
  '#17B254', '#BE8800', '#D65FF2', '#1DADC5', '#1BA8E2',
];
// label anchor (cluster median) per cluster, same order as clusterNames
const labelX = [11.3, 4.55, 0.97, 5.05, -4.08, 3.69, 7.7, -3.99, -0.64, 1.92, -0.4, 2.74, -5.6, -7.43, 3.63, 0.03, -1.72, -1.01, 2.25, 5.58, 4.52, -4.02, 0.38];
const labelY = [1.0, 18.65, 14.05, 15.45, 12.95, 11.15, 10.05, 7.2, 6.69, 5.29, 3.89, 2.55, 3.0, -1.71, 1.16, -0.62, -1.71, -4.0, -5.6, -4.44, -6.63, -6.18, -8.0];

const xTicks = [-10, 0, 10];
const yTicks = [-10, 0, 10, 20];

function toPairs(flat: number[]) {
  const out: number[][] = [];
  for (let i = 0; i + 1 < flat.length; i += 2) out.push([flat[i], flat[i + 1]]);
  return out;
}

const FONT = 'Liberation Sans, Arial, Helvetica, sans-serif';

export default function App() {
  const ref = useRef<HTMLDivElement>(null);
  useEffect(() => {
    document.body.style.margin = '0';
    if (!ref.current) return;
    const chart = echarts.init(ref.current, undefined, { renderer: 'svg' });
    const pointSeries = clusterNames.map((name, i) => ({
      type: 'scatter',
      name,
      data: toPairs(clusterPoints[i]),
      symbolSize: 6,
      itemStyle: { color: clusterColors[i] },
      silent: true,
    }));
    chart.setOption({
      animation: false,
      backgroundColor: '#fff',
      title: {
        text: 'annotation',
        left: 1017,
        top: 26,
        padding: 0,
        textAlign: 'center',
        textStyle: { fontFamily: FONT, fontSize: 42, fontWeight: 'bold', color: '#000' },
      },
      grid: { left: 139, right: 25, top: 89, bottom: 121, containLabel: false },
      xAxis: {
        type: 'value',
        min: -11.2,
        max: 16.9,
        name: 'umap_1',
        nameLocation: 'middle',
        nameGap: 53,
        nameTextStyle: { fontFamily: FONT, fontSize: 37, color: '#000' },
        splitLine: { show: false },
        axisLine: { show: true, onZero: false, lineStyle: { color: '#000', width: 2 } },
        axisTick: { show: true, length: 9, lineStyle: { color: '#000', width: 2 }, customValues: xTicks },
        axisLabel: { fontFamily: FONT, fontSize: 31, color: '#000', margin: 10, customValues: xTicks },
      },
      yAxis: {
        type: 'value',
        min: -11.25,
        max: 20.22,
        name: 'umap_2',
        nameLocation: 'middle',
        nameGap: 70,
        nameTextStyle: { fontFamily: FONT, fontSize: 37, color: '#000' },
        splitLine: { show: false },
        axisLine: { show: true, onZero: false, lineStyle: { color: '#000', width: 2 } },
        axisTick: { show: true, length: 9, lineStyle: { color: '#000', width: 2 }, customValues: yTicks },
        axisLabel: { fontFamily: FONT, fontSize: 31, color: '#000', margin: 18, customValues: yTicks },
      },
      series: [
        ...pointSeries,
        {
          type: 'scatter',
          name: 'labels',
          silent: true,
          symbolSize: 1,
          itemStyle: { color: 'rgba(0,0,0,0)' },
          data: clusterNames.map((name, i) => ({ name, value: [labelX[i], labelY[i]] })),
          label: {
            show: true,
            position: 'inside',
            formatter: '{b}',
            fontFamily: FONT,
            fontSize: 23,
            color: '#000',
          },
          labelLayout: { hideOverlap: false },
          z: 10,
        },
      ],
    });
    return () => { chart.dispose(); };
  }, []);
  return <div ref={ref} style={{ width: 1920, height: 1344 }} />;
}
